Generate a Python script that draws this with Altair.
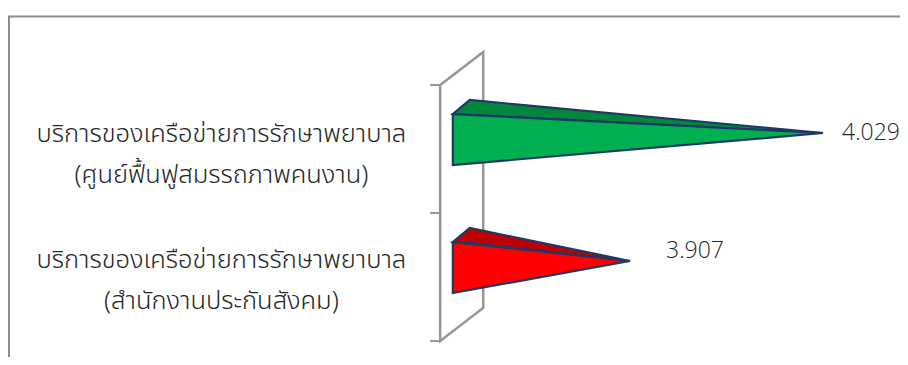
import altair as alt
import pandas as pd

categories = ["บริการของเครือข่ายการรักษาพยาบาล\n(ศูนย์ฟื้นฟูสมรรถภาพคนงาน)",
              "บริการของเครือข่ายการรักษาพยาบาล\n(สำนักงานประกันสังคม)"]
values = [4.029, 3.907]
value_labels = ["4.029", "3.907"]
front_colors = ["#00B050", "#FF0000"]
top_colors = ["#00863D", "#C00000"]
centers = [1.625, 0.625]
label_centers = [1.617, 0.633]
label_dx = [19, 36]
label_dy = [0, -10]

BASE = 3.795
DEPTH_X = 0.0107
DEPTH_Y = 0.11
WALL_L, WALL_R = 3.787, 3.8142

xs = alt.Scale(domain=[3.907, 4.029], range=[622, 815])
ys = alt.Scale(domain=[0, 2], range=[333, 77])
X = alt.X("x:Q", scale=xs, axis=None)
Y = alt.Y("y:Q", scale=ys, axis=None)

W, H = 892, 349

wall = pd.DataFrame({
    "x": [WALL_L, WALL_R, WALL_R, WALL_L, WALL_L],
    "y": [2, 2 + 33 / 128, 33 / 128, 0, 2],
    "o": range(5),
})
wall_layer = alt.Chart(wall).mark_line(color="#969696", strokeWidth=2.5).encode(x=X, y=Y, order="o:Q")

ticks = pd.DataFrame({"y": [0, 1, 2], "x": [WALL_L - 0.0063] * 3, "x2": [WALL_L] * 3})
tick_layer = alt.Chart(ticks).mark_rule(color="#969696", strokeWidth=2).encode(x=X, x2="x2:Q", y=Y)

layers = [wall_layer, tick_layer]
for v, c, fc, tc in zip(values, centers, front_colors, top_colors):
    top_y = c + 0.148
    bot_y = c - 0.25
    tip_y = c
    back = pd.DataFrame({
        "x": [BASE, BASE + DEPTH_X, v],
        "y": [top_y, top_y + DEPTH_Y, tip_y],
        "y2": [top_y, top_y - 0.007, tip_y],
    })
    front = pd.DataFrame({"x": [BASE, v], "y": [top_y, tip_y], "y2": [bot_y, tip_y]})
    for d, col in ((back, tc), (front, fc)):
        layers.append(alt.Chart(d).mark_area(color=col, stroke="#1F3864", strokeWidth=2.2, strokeJoin="miter", opacity=1)
                      .encode(x=X, y=Y, y2="y2:Q"))

for v, c, t, dx, dy in zip(values, centers, value_labels, label_dx, label_dy):
    d = pd.DataFrame({"x": [v], "y": [c], "t": [t]})
    layers.append(alt.Chart(d).mark_text(font="Open Sans", fontSize=23, fontWeight=300, align="left",
                  baseline="middle", dx=dx, dy=dy, color="#262626").encode(x=X, y=Y, text="t:N"))

cat = pd.DataFrame({"x": [BASE - 0.1463] * 2, "y": label_centers, "t": categories})
layers.append(alt.Chart(cat).mark_text(font="Noto Sans Thai", fontSize=25.5, fontWeight=300, align="center",
              baseline="middle", lineBreak="\n", lineHeight=41, color="#262626").encode(x=X, y=Y, text="t:N"))

border = pd.DataFrame({"x": [3.907 - 621 / 1582] * 2 + [3.907 + 278 / 1582], "y": [-0.2, 2.535, 2.535], "o": [0, 1, 2]})
layers.append(alt.Chart(border).mark_line(color="#8C8C8C", strokeWidth=2, clip=False).encode(x=X, y=Y, order="o:Q"))

chart = alt.layer(*layers).properties(
    width=W, height=H, padding=0, background="white", autosize=alt.AutoSizeParams(type="none")
).configure_view(stroke=None)
chart.save("out.html", embed_options={"renderer": "svg", "actions": False})
